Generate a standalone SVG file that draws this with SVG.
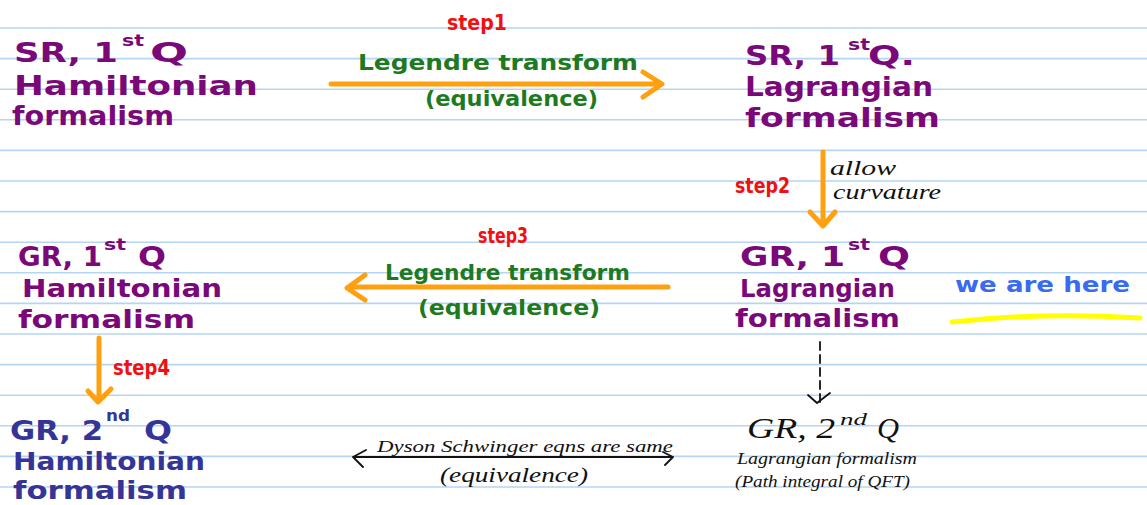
<svg xmlns="http://www.w3.org/2000/svg" width="1147" height="505" viewBox="0 0 1147 505">
<style>
.rule{stroke:#b5d5f5;stroke-width:1.6}
.m{font-family:"DejaVu Sans","Liberation Sans",sans-serif;font-weight:bold;font-size:27px}
.sm{font-size:24px}
.s{font-size:15px}
.mid{font-size:22px}
.pu{fill:#7a0878}
.nv{fill:#353598}
.gr{fill:#1e7a1e}
.rd{fill:#f01010;font-size:21px}
.bl{fill:#3a6af0}
.pen{font-family:"Liberation Serif",serif;font-style:italic;fill:#111}
.oa{stroke:#ffa010;stroke-width:5;fill:none;stroke-linecap:round;stroke-linejoin:round}
.ka{stroke:#111;stroke-width:1.8;fill:none;stroke-linecap:round;stroke-linejoin:round}
</style>
<rect width="1147" height="505" fill="#ffffff"/>
<g id="ruling">
<line class="rule" x1="0" y1="28" x2="1147" y2="28"/>
<line class="rule" x1="0" y1="58.6" x2="1147" y2="58.6"/>
<line class="rule" x1="0" y1="89.2" x2="1147" y2="89.2"/>
<line class="rule" x1="0" y1="119.8" x2="1147" y2="119.8"/>
<line class="rule" x1="0" y1="150.4" x2="1147" y2="150.4"/>
<line class="rule" x1="0" y1="181" x2="1147" y2="181"/>
<line class="rule" x1="0" y1="211.6" x2="1147" y2="211.6"/>
<line class="rule" x1="0" y1="242.2" x2="1147" y2="242.2"/>
<line class="rule" x1="0" y1="272.8" x2="1147" y2="272.8"/>
<line class="rule" x1="0" y1="303.4" x2="1147" y2="303.4"/>
<line class="rule" x1="0" y1="334" x2="1147" y2="334"/>
<line class="rule" x1="0" y1="364.6" x2="1147" y2="364.6"/>
<line class="rule" x1="0" y1="395.2" x2="1147" y2="395.2"/>
<line class="rule" x1="0" y1="425.8" x2="1147" y2="425.8"/>
<line class="rule" x1="0" y1="456.4" x2="1147" y2="456.4"/>
<line class="rule" x1="0" y1="487" x2="1147" y2="487"/>
</g>
<g id="connectors">
<path class="oa" d="M331,84 L660,84 M643,72 L662,84 L643,97"/>
<path class="oa" d="M823,152 L823,225 M810,212 L823,226 L835,212"/>
<path class="oa" d="M668,287 L349,287 M365,275 L347,288 L365,300"/>
<path class="oa" d="M99,338 L99,400 M88,391 L98,402 L111,389"/>
<path class="ka" d="M820,342 L820,402" stroke-dasharray="8 5"/>
<path class="ka" d="M808,395 L817,403 L830,393"/>
<path class="ka" d="M353,457 L673,457 M366,450 L353,457 L363,467 M663,452 L673,457 L665,465"/>
</g>
<g id="label-step1">
<text class="m rd" x="447" y="30" textLength="60" lengthAdjust="spacingAndGlyphs">step1</text>
<text class="m mid gr" x="358" y="70" textLength="280" lengthAdjust="spacingAndGlyphs">Legendre transform</text>
<text class="m mid gr" x="425" y="106" textLength="173" lengthAdjust="spacingAndGlyphs">(equivalence)</text>
</g>
<g id="label-step2">
<text class="m rd" x="735" y="193" textLength="55" lengthAdjust="spacingAndGlyphs">step2</text>
<text class="pen" x="830" y="175" font-size="20" textLength="66" lengthAdjust="spacingAndGlyphs">allow</text>
<text class="pen" x="833" y="199" font-size="20" textLength="108" lengthAdjust="spacingAndGlyphs">curvature</text>
</g>
<g id="label-step3">
<text class="m rd" x="478" y="243" textLength="50" lengthAdjust="spacingAndGlyphs">step3</text>
<text class="m mid gr" x="385" y="280" textLength="245" lengthAdjust="spacingAndGlyphs">Legendre transform</text>
<text class="m mid gr" x="418" y="315" textLength="182" lengthAdjust="spacingAndGlyphs">(equivalence)</text>
</g>
<g id="label-step4">
<text class="m rd" x="113" y="375" textLength="57" lengthAdjust="spacingAndGlyphs">step4</text>
</g>
<g id="label-dyson">
<text class="pen" x="377" y="452" font-size="17" textLength="296" lengthAdjust="spacingAndGlyphs">Dyson Schwinger eqns are same</text>
<text class="pen" x="440" y="482" font-size="20" textLength="148" lengthAdjust="spacingAndGlyphs">(equivalence)</text>
</g>
<g id="node-sr-hamiltonian">
<text class="m pu" x="14" y="62" textLength="104" lengthAdjust="spacingAndGlyphs">SR, 1</text>
<text class="m s pu" x="122" y="46" textLength="22" lengthAdjust="spacingAndGlyphs">st</text>
<text class="m pu" x="150" y="62" textLength="38" lengthAdjust="spacingAndGlyphs">Q</text>
<text class="m pu" x="14" y="95" textLength="244" lengthAdjust="spacingAndGlyphs">Hamiltonian</text>
<text class="m pu" x="12" y="125" textLength="162" lengthAdjust="spacingAndGlyphs">formalism</text>
</g>
<g id="node-sr-lagrangian">
<text class="m pu" x="745" y="65" textLength="95" lengthAdjust="spacingAndGlyphs">SR, 1</text>
<text class="m s pu" x="848" y="50" textLength="22" lengthAdjust="spacingAndGlyphs">st</text>
<text class="m pu" x="868" y="65" textLength="47" lengthAdjust="spacingAndGlyphs">Q.</text>
<text class="m pu" x="745" y="96" textLength="188" lengthAdjust="spacingAndGlyphs">Lagrangian</text>
<text class="m pu" x="745" y="127" textLength="195" lengthAdjust="spacingAndGlyphs">formalism</text>
</g>
<g id="node-gr1-lagrangian">
<text class="m pu" x="740" y="266" textLength="105" lengthAdjust="spacingAndGlyphs">GR, 1</text>
<text class="m s pu" x="848" y="250" textLength="22" lengthAdjust="spacingAndGlyphs">st</text>
<text class="m pu" x="878" y="266" textLength="32" lengthAdjust="spacingAndGlyphs">Q</text>
<text class="m sm pu" x="740" y="297" textLength="155" lengthAdjust="spacingAndGlyphs">Lagrangian</text>
<text class="m sm pu" x="735" y="327" textLength="165" lengthAdjust="spacingAndGlyphs">formalism</text>
</g>
<g id="note-we-are-here">
<text class="m mid bl" x="955" y="292" textLength="175" lengthAdjust="spacingAndGlyphs">we are here</text>
<path d="M952,322 Q1040,312 1140,318" stroke="#ffff00" stroke-width="5" fill="none" stroke-linecap="round"/>
</g>
<g id="node-gr1-hamiltonian">
<text class="m pu" x="18" y="266" textLength="84" lengthAdjust="spacingAndGlyphs">GR, 1</text>
<text class="m s pu" x="104" y="250" textLength="22" lengthAdjust="spacingAndGlyphs">st</text>
<text class="m pu" x="138" y="266" textLength="28" lengthAdjust="spacingAndGlyphs">Q</text>
<text class="m sm pu" x="22" y="297" textLength="200" lengthAdjust="spacingAndGlyphs">Hamiltonian</text>
<text class="m sm pu" x="18" y="328" textLength="177" lengthAdjust="spacingAndGlyphs">formalism</text>
</g>
<g id="node-gr2-hamiltonian">
<text class="m nv" x="10" y="440" textLength="93" lengthAdjust="spacingAndGlyphs">GR, 2</text>
<text class="m s nv" x="106" y="421" textLength="24" lengthAdjust="spacingAndGlyphs">nd</text>
<text class="m nv" x="144" y="440" textLength="28" lengthAdjust="spacingAndGlyphs">Q</text>
<text class="m sm nv" x="13" y="470" textLength="192" lengthAdjust="spacingAndGlyphs">Hamiltonian</text>
<text class="m sm nv" x="13" y="499" textLength="174" lengthAdjust="spacingAndGlyphs">formalism</text>
</g>
<g id="node-gr2-lagrangian">
<text class="pen" x="747" y="438" font-size="30" textLength="88" lengthAdjust="spacingAndGlyphs">GR, 2</text>
<text class="pen" x="840" y="425" font-size="17" textLength="27" lengthAdjust="spacingAndGlyphs">nd</text>
<text class="pen" x="877" y="438" font-size="30" textLength="22" lengthAdjust="spacingAndGlyphs">Q</text>
<text class="pen" x="737" y="464" font-size="17" textLength="180" lengthAdjust="spacingAndGlyphs">Lagrangian formalism</text>
<text class="pen" x="735" y="487" font-size="17" textLength="175" lengthAdjust="spacingAndGlyphs">(Path integral of QFT)</text>
</g>
</svg>
